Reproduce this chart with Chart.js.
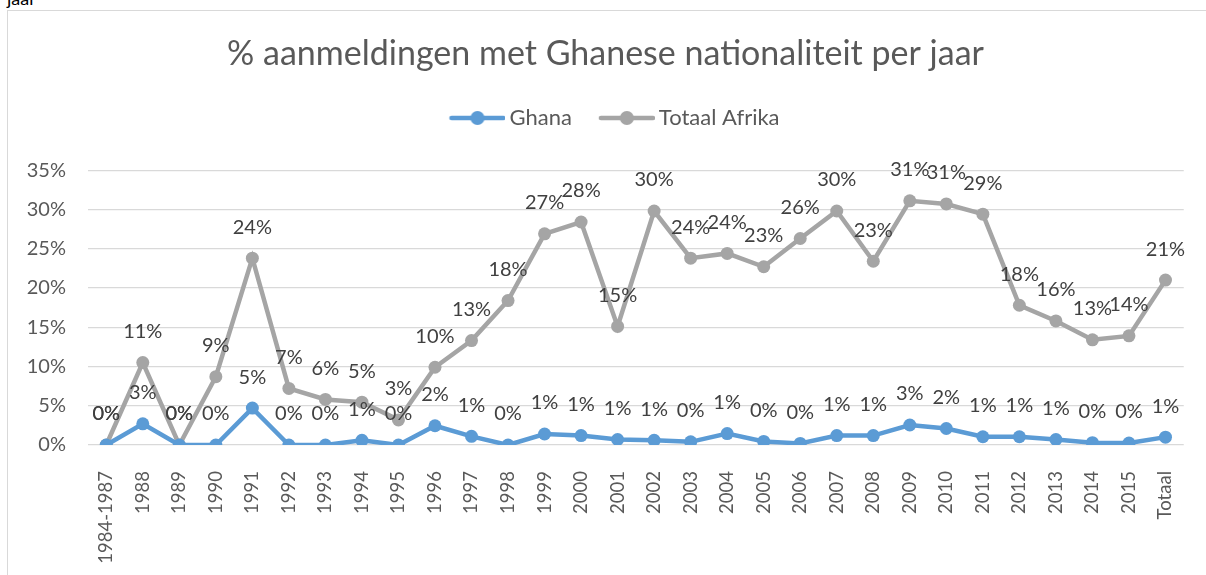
<!DOCTYPE html>
<html>
<head>
<meta charset="utf-8">
<script src="https://cdn.jsdelivr.net/npm/chart.js@4.4.1/dist/chart.umd.min.js"></script>
<style>
  html, body { margin: 0; padding: 0; width: 1206px; height: 575px; overflow: hidden; background: #fff; }
  #frame { position: absolute; left: 7px; top: 10px; width: 1205px; height: 570px; border: 1px solid #d9d9d9; box-sizing: border-box; background: #fff; }
  #wrap { position: absolute; left: 0; top: 0; width: 1198px; height: 564px; }
  #note { position: absolute; left: 7px; top: -11px; font: 18px Lato, sans-serif; line-height: 18px; color: #000; }
</style>
</head>
<body>
<div id="note">jaar</div>
<div id="frame"><div id="wrap"><canvas id="c"></canvas></div></div>
<script>
const categories = ['1984-1987','1988','1989','1990','1991','1992','1993','1994','1995','1996','1997','1998','1999','2000','2001','2002','2003','2004','2005','2006','2007','2008','2009','2010','2011','2012','2013','2014','2015','Totaal'];
const ghana = [0, 2.7, 0, 0, 4.7, 0, 0, 0.6, 0, 2.45, 1.1, 0, 1.4, 1.2, 0.7, 0.6, 0.4, 1.45, 0.45, 0.2, 1.2, 1.2, 2.55, 2.1, 1.05, 1.05, 0.7, 0.3, 0.25, 1.0];
const totaalAfrika = [0, 10.5, 0, 8.7, 23.8, 7.2, 5.8, 5.45, 3.2, 9.9, 13.3, 18.4, 26.9, 28.4, 15.1, 29.8, 23.8, 24.4, 22.7, 26.3, 29.8, 23.4, 31.1, 30.7, 29.4, 17.8, 15.8, 13.4, 13.9, 21.0];
const yTicks = [0, 5, 10, 15, 20, 25, 30, 35];
const titleText = '% aanmeldingen met Ghanese nationaliteit per jaar';

const FONT = 'Lato, "Open Sans", sans-serif';
const BLUE = '#5B9BD5';
const GRAY = '#A5A5A5';

function legendMarker(color) {
  const c = document.createElement('canvas');
  c.width = 59; c.height = 16;
  const g = c.getContext('2d');
  g.strokeStyle = color; g.lineWidth = 4.5; g.lineCap = 'round';
  g.beginPath(); g.moveTo(5, 8); g.lineTo(57, 8); g.stroke();
  g.fillStyle = color; g.beginPath(); g.arc(31, 8, 7, 0, Math.PI * 2); g.fill();
  return c;
}
const markers = [legendMarker(BLUE), legendMarker(GRAY)];

const labelPlugin = {
  id: 'pctLabels',
  afterLayout(chart) {
    if (chart.legend) { chart.legend.left += 11; chart.legend.right += 11; }
  },
  afterDatasetsDraw(chart) {
    const ctx = chart.ctx;
    ctx.save();
    ctx.font = '20px ' + FONT;
    ctx.fillStyle = '#404040';
    ctx.textAlign = 'center';
    ctx.textBaseline = 'middle';
    chart.data.datasets.forEach((ds, di) => {
      const meta = chart.getDatasetMeta(di);
      meta.data.forEach((pt, i) => {
        ctx.fillText(Math.round(ds.data[i]) + '%', pt.x, pt.y - 31);
      });
    });
    ctx.restore();
  }
};

new Chart(document.getElementById('c'), {
  type: 'line',
  data: {
    labels: categories,
    datasets: [
      { label: 'Ghana', data: ghana, borderColor: BLUE, backgroundColor: BLUE, borderWidth: 4.5,
        pointRadius: 6.5, pointHoverRadius: 6.5, pointBackgroundColor: BLUE, pointBorderWidth: 0, tension: 0 },
      { label: 'Totaal Afrika', data: totaalAfrika, borderColor: GRAY, backgroundColor: GRAY, borderWidth: 4.5,
        pointRadius: 6.5, pointHoverRadius: 6.5, pointBackgroundColor: GRAY, pointBorderWidth: 0, tension: 0 }
    ]
  },
  options: {
    responsive: true,
    maintainAspectRatio: false,
    animation: false,
    events: [],
    layout: { padding: { left: 16, right: 19, top: 0, bottom: 0 } },
    plugins: {
      title: { display: true, text: titleText, color: '#595959',
        font: { family: FONT, size: 34, weight: 'normal' }, padding: { top: 22.6, bottom: 1.6 } },
      subtitle: { display: true, text: ' ', weight: 500, font: { size: 1 }, padding: { top: 30, bottom: 0 } },
      legend: { display: true, position: 'top',
        labels: { color: '#595959', font: { family: FONT, size: 22 }, usePointStyle: true, pointStyleWidth: 45,
          boxHeight: 16, padding: 31,
          generateLabels(chart) {
            const items = Chart.defaults.plugins.legend.labels.generateLabels(chart);
            items.forEach((it, i) => { it.pointStyle = markers[i]; });
            return items;
          } } },
      tooltip: { enabled: false }
    },
    scales: {
      x: {
        offset: true,
        grid: { display: false },
        border: { display: false },
        ticks: { color: '#595959', font: { family: FONT, size: 18.5 }, minRotation: 90, maxRotation: 90, padding: 18, autoSkip: false },
        afterFit(s) { s.height = 130; }
      },
      y: {
        min: 0, max: 35,
        afterBuildTicks(s) { s.ticks = yTicks.map(v => ({ value: v })); },
        grid: { color: '#d9d9d9', lineWidth: 1.3, drawTicks: false },
        border: { display: false },
        ticks: { color: '#595959', font: { family: FONT, size: 20 }, padding: 22, callback: v => v + '%' },
        afterFit(s) { s.width = 64; }
      }
    }
  },
  plugins: [labelPlugin]
});
</script>
</body>
</html>
